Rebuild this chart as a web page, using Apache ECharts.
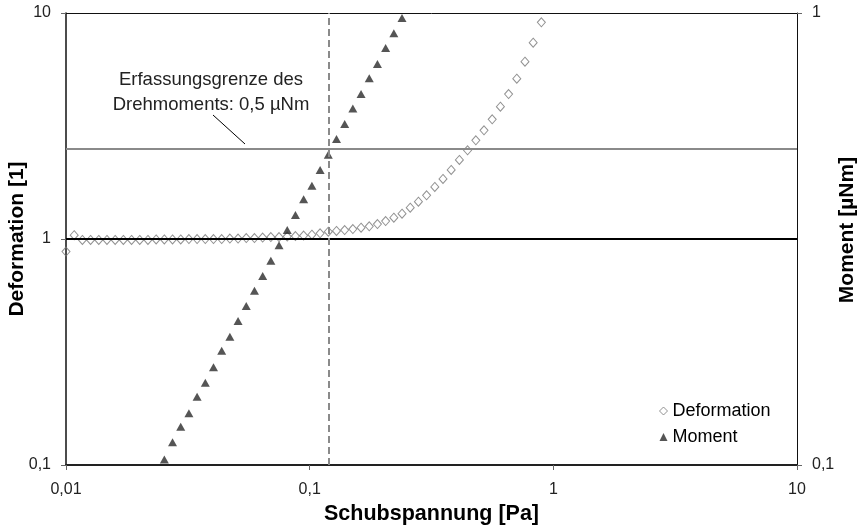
<!DOCTYPE html>
<html>
<head>
<meta charset="utf-8">
<script src="https://cdn.jsdelivr.net/npm/echarts@6/dist/echarts.min.js"></script>
<style>
html,body{margin:0;padding:0;background:#fff;}
#chart{width:861px;height:526px;}
</style>
</head>
<body>
<div id="chart"></div>
<script>
// Shear stress [Pa] for the Deformation measurement points
const deformationStress = [
  0.01, 0.010805, 0.011675, 0.012615, 0.013631, 0.014728, 0.015914, 0.017195, 0.01858, 0.020075,
  0.021692, 0.023438, 0.025325, 0.027364, 0.029567, 0.031947, 0.034519, 0.037298, 0.040301, 0.043545,
  0.047051, 0.050839, 0.054932, 0.059354, 0.064132, 0.069295, 0.074874, 0.080902, 0.087415, 0.094452,
  0.10214, 0.11036, 0.11924, 0.12884, 0.13921, 0.15042, 0.16253, 0.17561, 0.18975, 0.20502,
  0.22153, 0.23936, 0.25863, 0.27945, 0.30194, 0.32625, 0.35252, 0.38089, 0.41156, 0.44469,
  0.48084, 0.5194, 0.56121, 0.60639, 0.65521, 0.70795, 0.76494, 0.82652, 0.89305
];
// Deformation [1]
const deformationValues = [
  0.88, 1.04, 0.99, 0.99, 0.99, 0.99, 0.99, 0.99, 0.99, 0.99,
  0.99, 0.995, 0.995, 0.995, 0.995, 1.0, 1.0, 1.0, 1.0, 1.0,
  1.005, 1.005, 1.01, 1.01, 1.015, 1.02, 1.02, 1.025, 1.03, 1.035,
  1.045, 1.06, 1.077, 1.085, 1.096, 1.107, 1.122, 1.138, 1.165, 1.201,
  1.243, 1.294, 1.376, 1.462, 1.561, 1.699, 1.843, 2.02, 2.237, 2.47,
  2.734, 3.027, 3.385, 3.849, 4.381, 5.121, 6.087, 7.39, 9.095
];
// Shear stress [Pa] for the Moment points shown
const momentStress = [
  0.025325, 0.027364, 0.029567, 0.031947, 0.034519, 0.037298, 0.040301, 0.043545, 0.047051, 0.050839,
  0.054932, 0.059354, 0.064132, 0.069295, 0.074874, 0.080902, 0.087415, 0.094452, 0.10214, 0.11036,
  0.11924, 0.12884, 0.13921, 0.15042, 0.16253, 0.17561, 0.18975, 0.20502, 0.22153, 0.23936
];
// Moment [µNm]
const momentValues = [
  0.1029, 0.1123, 0.1215, 0.1301, 0.1416, 0.1521, 0.1645, 0.179, 0.1922, 0.2083,
  0.2248, 0.243, 0.2619, 0.2831, 0.3063, 0.3311, 0.3573, 0.3871, 0.4149, 0.4495,
  0.486, 0.5264, 0.5682, 0.6144, 0.662, 0.7171, 0.7715, 0.8368, 0.9018, 0.9748
];
// Reference lines
const torqueLimit = 0.5;      // µNm, detection limit (right axis)
const limitStress = 0.1227;   // Pa, vertical dashed line
const deformationOne = 1;     // horizontal line on left axis

const xRange = [0.01, 10];
const yLeftRange = [0.1, 10];
const yRightRange = [0.1, 1];

const annotationText = 'Erfassungsgrenze des\nDrehmoments: 0,5 µNm';

const fmt = v => String(Number(Number(v).toPrecision(3))).replace('.', ',');
const FONT = '"Liberation Sans", Arial, sans-serif';

const chart = echarts.init(document.getElementById('chart'), null, {renderer: 'canvas'});

const option = {
  animation: false,
  backgroundColor: '#fff',
  textStyle: {fontFamily: FONT},
  grid: {left: 66, right: 64, top: 13, bottom: 61, containLabel: false, outerBoundsMode: 'none'},
  legend: {
    orient: 'vertical',
    left: 654, top: 397,
    itemWidth: 8, itemHeight: 8, itemGap: 8, itemTextGap: 8,
    textStyle: {fontSize: 18, color: '#000', fontFamily: FONT, lineHeight: 18},
    data: [
      {name: 'Deformation', icon: 'diamond', itemStyle: {color: '#fff', borderColor: '#777', borderWidth: 1}},
      {name: 'Moment', icon: 'triangle', itemStyle: {color: '#2a2a2a'}}
    ]
  },
  xAxis: {
    type: 'log', logBase: 10, min: xRange[0], max: xRange[1],
    name: 'Schubspannung [Pa]', nameLocation: 'middle', nameGap: 38, nameMoveOverlap: false,
    nameTextStyle: {fontSize: 21.5, fontWeight: 'bold', color: '#000', fontFamily: FONT},
    axisLine: {lineStyle: {color: '#222', width: 2}},
    axisTick: {show: true, length: 5, inside: false, lineStyle: {color: '#666', width: 1}},
    axisLabel: {fontSize: 16, color: '#222', margin: 17, formatter: fmt, fontFamily: FONT},
    splitLine: {show: false},
    minorTick: {show: false}
  },
  yAxis: [
    {
      type: 'log', logBase: 10, min: yLeftRange[0], max: yLeftRange[1], position: 'left',
      name: 'Deformation [1]', nameLocation: 'middle', nameGap: 38, nameRotate: 90, nameMoveOverlap: false,
      nameTextStyle: {fontSize: 21, fontWeight: 'bold', color: '#000', fontFamily: FONT},
      axisLine: {show: true, lineStyle: {color: '#111', width: 1.5}},
      axisTick: {show: true, length: 5, lineStyle: {color: '#666', width: 1}},
      axisLabel: {fontSize: 16, color: '#222', margin: 15, formatter: fmt, fontFamily: FONT},
      splitLine: {show: true, lineStyle: {color: '#111', width: 1}}
    },
    {
      type: 'log', logBase: 10, min: yRightRange[0], max: yRightRange[1], position: 'right',
      name: 'Moment [µNm]', nameLocation: 'middle', nameGap: 40, nameRotate: 90, nameMoveOverlap: false,
      nameTextStyle: {fontSize: 21, fontWeight: 'bold', color: '#000', fontFamily: FONT, padding: [0, 0, 0, 18]},
      axisLine: {show: true, lineStyle: {color: '#111', width: 1}},
      axisTick: {show: true, length: 5, lineStyle: {color: '#666', width: 1}},
      axisLabel: {fontSize: 16, color: '#222', margin: 15, formatter: fmt, fontFamily: FONT},
      splitLine: {show: false}
    }
  ],
  series: [
    {
      name: 'Deformation', type: 'scatter', yAxisIndex: 0,
      symbol: 'diamond', symbolSize: [8, 9],
      itemStyle: {color: 'rgba(255,255,255,0)', borderColor: '#777', borderWidth: 1},
      data: deformationStress.map((x, i) => [x, deformationValues[i]]),
      z: 3,
      markLine: {
        silent: true, symbol: 'none', label: {show: false},
        lineStyle: {color: '#000', width: 2, type: 'solid'},
        data: [{yAxis: deformationOne}]
      }
    },
    {
      name: 'Moment', type: 'scatter', yAxisIndex: 1,
      symbol: 'triangle', symbolSize: [9, 8],
      itemStyle: {color: '#2a2a2a'},
      data: momentStress.map((x, i) => [x, momentValues[i]]),
      z: 4,
      markLine: {
        silent: true, symbol: 'none', label: {show: false},
        data: [
          {yAxis: torqueLimit, lineStyle: {color: '#8a8a8a', width: 2, type: 'solid'}},
          {xAxis: limitStress, lineStyle: {color: '#8a8a8a', width: 2, type: [7, 4]}}
        ]
      }
    }
  ],
  graphic: [
    {
      type: 'text', x: 211, y: 67,
      style: {text: annotationText, fontSize: 18.5, lineHeight: 25, fill: '#222', fontFamily: FONT, align: 'center', verticalAlign: 'top'}
    },
    {
      type: 'line', shape: {x1: 213, y1: 115, x2: 245, y2: 144},
      style: {stroke: '#000', lineWidth: 1}
    }
  ]
};
chart.setOption(option);
</script>
</body>
</html>
